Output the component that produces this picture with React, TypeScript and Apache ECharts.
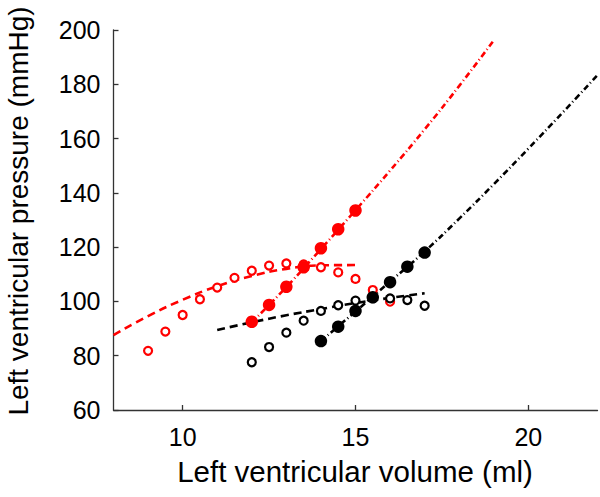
import React, { useEffect, useRef } from "react";
import * as echarts from "echarts";

// Red open circles (volume ml, pressure mmHg)
const redOpenX = [9, 9.5, 10, 10.5, 11, 11.5, 12, 12.5, 13, 13.5, 14, 14.5, 15, 15.5, 16];
const redOpenY = [81.8, 88.9, 95, 100.8, 105.1, 108.7, 111.3, 113.2, 114, 113.6, 112.6, 110.7, 108.3, 104.2, 99.9];
// Red dashed fit
const redDashX = [8, 9, 10, 11, 12, 13, 14, 15];
const redDashY = [87.6, 94.6, 100.6, 105.6, 109.4, 112.0, 113.3, 113.4];
// Red filled circles
const redFillX = [12, 12.5, 13, 13.5, 14, 14.5, 15];
const redFillY = [92.5, 98.7, 105.4, 112.6, 119.6, 126.6, 133.5];
// Red dash-dot fit
const redDotX = [12, 13, 14, 15, 16, 17, 18, 19];
const redDotY = [92.3, 105.3, 119.3, 133.6, 148.2, 163.4, 179.4, 196.2];

// Black open circles
const blackOpenX = [12, 12.5, 13, 13.5, 14, 14.5, 15, 15.5, 16, 16.5, 17];
const blackOpenY = [77.6, 83.2, 88.5, 92.9, 96.5, 98.6, 100.3, 101.2, 101.1, 100.5, 98.4];
// Black dashed fit
const blackDashX = [11, 12, 13, 14, 15, 16, 17];
const blackDashY = [89.5, 92.3, 94.9, 97.2, 99.4, 101.3, 103.0];
// Black filled circles
const blackFillX = [14, 14.5, 15, 15.5, 16, 16.5, 17];
const blackFillY = [85.4, 90.7, 96.5, 101.5, 107.1, 112.8, 118.0];
// Black dash-dot fit
const blackDotX = [14, 15, 16, 17, 18, 19, 20, 21, 22];
const blackDotY = [85.4, 96.3, 107.3, 118.4, 130.5, 143.2, 156.3, 169.7, 183.4];

const xTicks = [10, 15, 20];
const xTitle = "Left ventricular volume (ml)";
const yTitle = "Left ventricular pressure (mmHg)";

const pair = (xs: number[], ys: number[]) => xs.map((x, i) => [x, ys[i]]);

const FONT = "'Liberation Sans', Arial, Helvetica, sans-serif";

export default function App() {
  const ref = useRef<HTMLDivElement>(null);
  useEffect(() => {
    if (!ref.current) return;
    const chart = echarts.init(ref.current, undefined, { renderer: "svg" });
    const lineSeries = (data: number[][], color: string, dash: number[]) => ({
      type: "line",
      data,
      smooth: true,
      showSymbol: false,
      symbol: "none",
      lineStyle: { color, width: 2.6, type: dash, cap: "butt", opacity: 1 },
      silent: true,
      z: 2,
    });
    const scatter = (data: number[][], color: string, open: boolean) => ({
      type: "scatter",
      data,
      symbol: "circle",
      symbolSize: open ? 8 : 12.5,
      itemStyle: open
        ? { color: "#ffffff", borderColor: color, borderWidth: 2.2, opacity: 1 }
        : { color, borderWidth: 0, opacity: 1 },
      silent: true,
      z: open ? 3 : 4,
    });
    chart.setOption({
      animation: false,
      backgroundColor: "#ffffff",
      textStyle: { fontFamily: FONT },
      grid: {
        left: 113.5,
        right: 2.5,
        top: 30,
        bottom: 87,
        containLabel: false,
        outerBoundsMode: "none",
      },
      xAxis: {
        type: "value",
        min: 8,
        max: 22,
        splitLine: { show: false },
        axisLine: { lineStyle: { color: "#333333", width: 1.3 } },
        axisTick: { inside: true, length: 5, customValues: xTicks, lineStyle: { color: "#333333", width: 1.3 } },
        axisLabel: { customValues: xTicks, fontSize: 25, color: "#000", margin: 14, fontFamily: FONT },
      },
      yAxis: {
        type: "value",
        min: 60,
        max: 200,
        interval: 20,
        splitLine: { show: false },
        axisLine: { show: true, lineStyle: { color: "#333333", width: 1.3 } },
        axisTick: { show: true, inside: true, length: 5, lineStyle: { color: "#333333", width: 1.3 } },
        axisLabel: { fontSize: 25, color: "#000", margin: 13, fontFamily: FONT },
      },
      graphic: [
        {
          type: "text",
          x: 355,
          y: 471,
          style: {
            text: xTitle,
            fontSize: 29.5,
            fontFamily: FONT,
            fill: "#000",
            textAlign: "center",
            textVerticalAlign: "middle",
          },
          silent: true,
        },
        {
          type: "text",
          x: 18,
          y: 211,
          rotation: Math.PI / 2,
          style: {
            text: yTitle,
            fontSize: 28,
            fontFamily: FONT,
            fill: "#000",
            textAlign: "center",
            textVerticalAlign: "middle",
          },
          silent: true,
        },
      ],
      series: [
        lineSeries(pair(redDashX, redDashY), "#ff0000", [8, 5]),
        lineSeries(pair(blackDashX, blackDashY), "#000000", [8, 5]),
        lineSeries(pair(redDotX, redDotY), "#ff0000", [6, 3, 1, 3]),
        lineSeries(pair(blackDotX, blackDotY), "#000000", [6, 3, 1, 3]),
        scatter(pair(redOpenX, redOpenY), "#ff0000", true),
        scatter(pair(blackOpenX, blackOpenY), "#000000", true),
        scatter(pair(redFillX, redFillY), "#ff0000", false),
        scatter(pair(blackFillX, blackFillY), "#000000", false),
      ],
    });
    return () => chart.dispose();
  }, []);
  return (
    <div
      ref={ref}
      style={{ position: "absolute", left: 0, top: 0, width: 600, height: 497 }}
    />
  );
}
